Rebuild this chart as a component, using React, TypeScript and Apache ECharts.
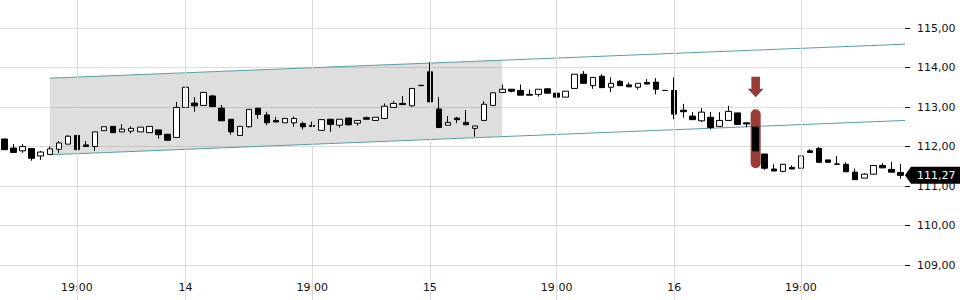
import React, { useEffect, useRef } from "react";
import * as echarts from "echarts";

// candle values (open, close, low, high) per bar index
const opens = [112.19,111.96,111.89,111.95,111.76,111.80,111.93,112.06,112.28,112.04,112.00,112.40,112.51,112.37,112.39,112.37,112.35,112.42,112.31,112.23,112.99,113.10,113.04,113.28,112.97,112.69,112.28,112.50,112.97,112.80,112.66,112.60,112.60,112.58,112.53,112.41,112.69,112.54,112.72,112.59,112.73,112.66,112.71,112.99,113.09,113.03,113.55,113.89,112.95,112.54,112.72,112.61,112.46,112.66,113.04,113.37,113.45,113.42,113.32,113.32,113.46,113.35,113.25,113.47,113.83,113.54,113.78,113.50,113.65,113.56,113.50,113.62,113.63,113.42,113.42,112.92,112.77,112.65,112.74,112.51,112.66,112.85,112.60,112.49,111.81,111.43,111.37,111.47,111.45,111.89,111.95,111.66,111.56,111.55,111.35,111.20,111.30,111.52,111.42,111.34];
const closes = [111.92,111.85,112.00,111.70,111.86,111.94,112.09,112.26,111.92,112.00,112.37,112.50,112.35,112.44,112.46,112.49,112.51,112.30,112.16,112.99,113.50,113.03,113.37,113.01,112.65,112.37,112.51,112.94,112.81,112.60,112.62,112.71,112.71,112.50,112.51,112.68,112.56,112.69,112.55,112.66,112.69,112.74,113.02,113.09,113.06,113.47,113.54,113.13,112.48,112.61,112.68,112.55,112.52,113.07,113.36,113.45,113.40,113.30,113.30,113.45,113.35,113.25,113.40,113.83,113.60,113.75,113.49,113.60,113.54,113.51,113.60,113.58,113.45,113.42,112.82,112.88,112.68,112.87,112.48,112.66,112.89,112.56,112.57,111.89,111.45,111.38,111.55,111.43,111.76,111.85,111.60,111.60,111.55,111.36,111.16,111.30,111.52,111.46,111.35,111.27];
const lows = [111.92,111.85,111.84,111.64,111.66,111.80,111.84,112.06,111.92,112.00,111.89,112.40,112.35,112.37,112.33,112.37,112.35,112.20,112.14,112.23,112.75,112.88,113.04,113.01,112.65,112.30,112.28,112.48,112.70,112.54,112.62,112.60,112.50,112.43,112.51,112.41,112.37,112.48,112.53,112.53,112.69,112.66,112.69,112.99,113.06,113.01,113.54,113.13,112.48,112.54,112.59,112.55,112.25,112.66,113.04,113.37,113.37,113.30,113.30,113.26,113.35,113.25,113.25,113.47,113.60,113.46,113.49,113.38,113.54,113.51,113.44,113.58,113.32,113.42,112.69,112.73,112.68,112.62,112.43,112.51,112.66,112.56,112.49,111.89,111.41,111.38,111.35,111.43,111.45,111.85,111.60,111.60,111.55,111.36,111.16,111.20,111.30,111.45,111.35,111.18];
const highs = [112.19,112.06,112.06,111.95,111.89,112.00,112.14,112.29,112.28,112.14,112.37,112.50,112.51,112.56,112.51,112.49,112.51,112.42,112.31,113.13,113.56,113.25,113.37,113.31,113.05,112.69,112.51,112.94,112.97,112.88,112.75,112.71,112.76,112.63,112.63,112.68,112.69,112.69,112.72,112.66,112.76,112.74,113.09,113.15,113.28,113.47,113.55,114.13,113.25,112.77,112.75,112.92,112.52,113.15,113.36,113.57,113.45,113.57,113.44,113.45,113.48,113.50,113.40,113.83,113.91,113.75,113.83,113.75,113.68,113.62,113.60,113.71,113.73,113.42,113.75,113.08,112.87,112.97,112.87,112.87,113.03,112.85,112.60,112.49,111.81,111.55,111.55,111.52,111.76,111.94,111.99,111.66,111.76,111.60,111.44,111.32,111.52,111.58,111.61,111.56];

// x-axis labels at bar indices
const tickIndices = [8, 20, 34, 47, 61, 74, 88];
const tickLabels = ["19:00", "14", "19:00", "15", "19:00", "16", "19:00"];

// trend channel [barIndex, price]
const channelUpper = [[5, 113.73], [99.5, 114.59]];
const channelLower = [[5, 111.79], [99.5, 112.66]];
const shadeEndIndex = 55;

// signal marker: [barIndex, highlightLow, highlightHigh, arrowTip]
const signal = [[83, 111.45, 112.94, 113.25]];

const lastPrice = 111.27;

const fmt = (v: number) => v.toFixed(2).replace(".", ",");
const FONT = "DejaVu Sans";

export default function App() {
  const ref = useRef<HTMLDivElement>(null);
  useEffect(() => {
    document.body.style.margin = "0";
    const chart = echarts.init(ref.current!, undefined, { renderer: "svg" });
    const categories = opens.map((_, i) => String(i));
    const candleData = opens.map((o, i) => [o, closes[i], lows[i], highs[i]]);
    const interp = (line: number[][], x: number) =>
      line[0][1] + ((x - line[0][0]) / (line[1][0] - line[0][0])) * (line[1][1] - line[0][1]);
    const shadePoly = [
      [channelUpper[0][0], channelUpper[0][1]],
      [shadeEndIndex, interp(channelUpper, shadeEndIndex)],
      [shadeEndIndex, interp(channelLower, shadeEndIndex)],
      [channelLower[0][0], channelLower[0][1]],
    ];
    const isTick = (i: number) => tickIndices.indexOf(i) >= 0;

    chart.setOption({
      animation: false,
      grid: {
        left: 0,
        right: 55,
        top: -11.5,
        bottom: -4.5,
        containLabel: false,
        outerBoundsMode: "none",
      },
      xAxis: [
        {
          type: "category",
          data: categories,
          boundaryGap: true,
          axisLine: { show: false, onZero: false },
          axisTick: {
            show: true,
            inside: true,
            length: 11,
            alignWithLabel: true,
            interval: (i: number) => isTick(i),
            lineStyle: { color: "#000" },
          },
          axisLabel: {
            inside: true,
            margin: 12,
            interval: (i: number) => isTick(i),
            formatter: (_v: string, i: number) => {
              const k = tickIndices.indexOf(i);
              return k >= 0 ? tickLabels[k] : "";
            },
            fontSize: 11,
            fontFamily: FONT,
            color: "#111",
          },
          splitLine: { show: false },
        },
        {
          type: "value",
          min: -0.5,
          max: 99.5,
          show: false,
          gridIndex: 0,
          axisLine: { onZero: false },
        },
      ],
      yAxis: {
        type: "value",
        position: "right",
        min: 108,
        max: 116,
        interval: 1,
        axisLine: { show: false, onZero: false },
        axisTick: { show: true, length: 5, lineStyle: { color: "#000" } },
        axisLabel: {
          margin: 12,
          showMinLabel: false,
          showMaxLabel: false,
          formatter: (v: number) => fmt(v),
          fontSize: 11,
          fontFamily: FONT,
          color: "#111",
        },
        splitLine: { show: true, lineStyle: { color: "#dcdcdc", width: 1 } },
      },
      series: [
        {
          type: "line",
          xAxisIndex: 1,
          data: [],
          z: 0.5,
          silent: true,
          markLine: {
            silent: true,
            symbol: "none",
            label: { show: false },
            lineStyle: { color: "#dcdcdc", type: "solid", width: 1 },
            data: tickIndices.map((i) => ({ xAxis: i })),
          },
        },
        {
          type: "custom",
          xAxisIndex: 1,
          z: 1,
          silent: true,
          data: [0],
          renderItem: (_p: any, api: any) => ({
            type: "polygon",
            shape: { points: shadePoly.map((pt) => api.coord(pt)) },
            style: { fill: "rgba(128,128,128,0.26)" },
          }),
        },
        {
          type: "line",
          xAxisIndex: 1,
          data: channelUpper,
          showSymbol: false,
          z: 1.5,
          silent: true,
          lineStyle: { color: "#5a9ea0", width: 1 },
        },
        {
          type: "line",
          xAxisIndex: 1,
          data: channelLower,
          showSymbol: false,
          z: 1.5,
          silent: true,
          lineStyle: { color: "#5a9ea0", width: 1 },
        },
        {
          type: "custom",
          xAxisIndex: 1,
          z: 1.8,
          silent: true,
          clip: false,
          data: signal,
          renderItem: (_p: any, api: any) => {
            const x = api.value(0);
            const lo = api.coord([x, api.value(1)]);
            const hi = api.coord([x, api.value(2)]);
            const tip = api.coord([x, api.value(3)]);
            const cx = lo[0];
            const ty = tip[1];
            return {
              type: "group",
              children: [
                {
                  type: "rect",
                  shape: { x: cx - 5, y: hi[1], width: 10, height: lo[1] - hi[1], r: 5 },
                  style: { fill: "#9a3c36" },
                },
                {
                  type: "polygon",
                  shape: {
                    points: [
                      [cx, ty],
                      [cx - 8, ty - 8.5],
                      [cx - 4.3, ty - 8.5],
                      [cx - 4.3, ty - 20.5],
                      [cx + 4.3, ty - 20.5],
                      [cx + 4.3, ty - 8.5],
                      [cx + 8, ty - 8.5],
                    ],
                  },
                  style: { fill: "#9a3c36" },
                },
              ],
            };
          },
        },
        {
          type: "candlestick",
          xAxisIndex: 0,
          data: candleData,
          barWidth: 6,
          z: 2,
          silent: true,
          itemStyle: {
            color: "#ffffff",
            color0: "#000000",
            borderColor: "#000000",
            borderColor0: "#000000",
            borderWidth: 1,
          },
        },
        {
          type: "custom",
          xAxisIndex: 1,
          z: 5,
          silent: true,
          clip: false,
          data: [[99.5, lastPrice]],
          renderItem: (_p: any, api: any) => {
            const p = api.coord([api.value(0), api.value(1)]);
            const W = api.getWidth();
            const x = p[0];
            const y = p[1];
            return {
              type: "group",
              children: [
                {
                  type: "polygon",
                  shape: {
                    points: [
                      [x, y],
                      [x + 6, y - 8.5],
                      [W, y - 8.5],
                      [W, y + 8.5],
                      [x + 6, y + 8.5],
                    ],
                  },
                  style: { fill: "#000" },
                },
                {
                  type: "text",
                  style: {
                    x: x + 12,
                    y: y,
                    text: fmt(api.value(1)),
                    fill: "#fff",
                    font: `11px "${FONT}"`,
                    verticalAlign: "middle",
                    align: "left",
                  },
                },
              ],
            };
          },
        },
      ],
    });
    return () => chart.dispose();
  }, []);
  return <div ref={ref} style={{ width: 960, height: 300 }} />;
}
